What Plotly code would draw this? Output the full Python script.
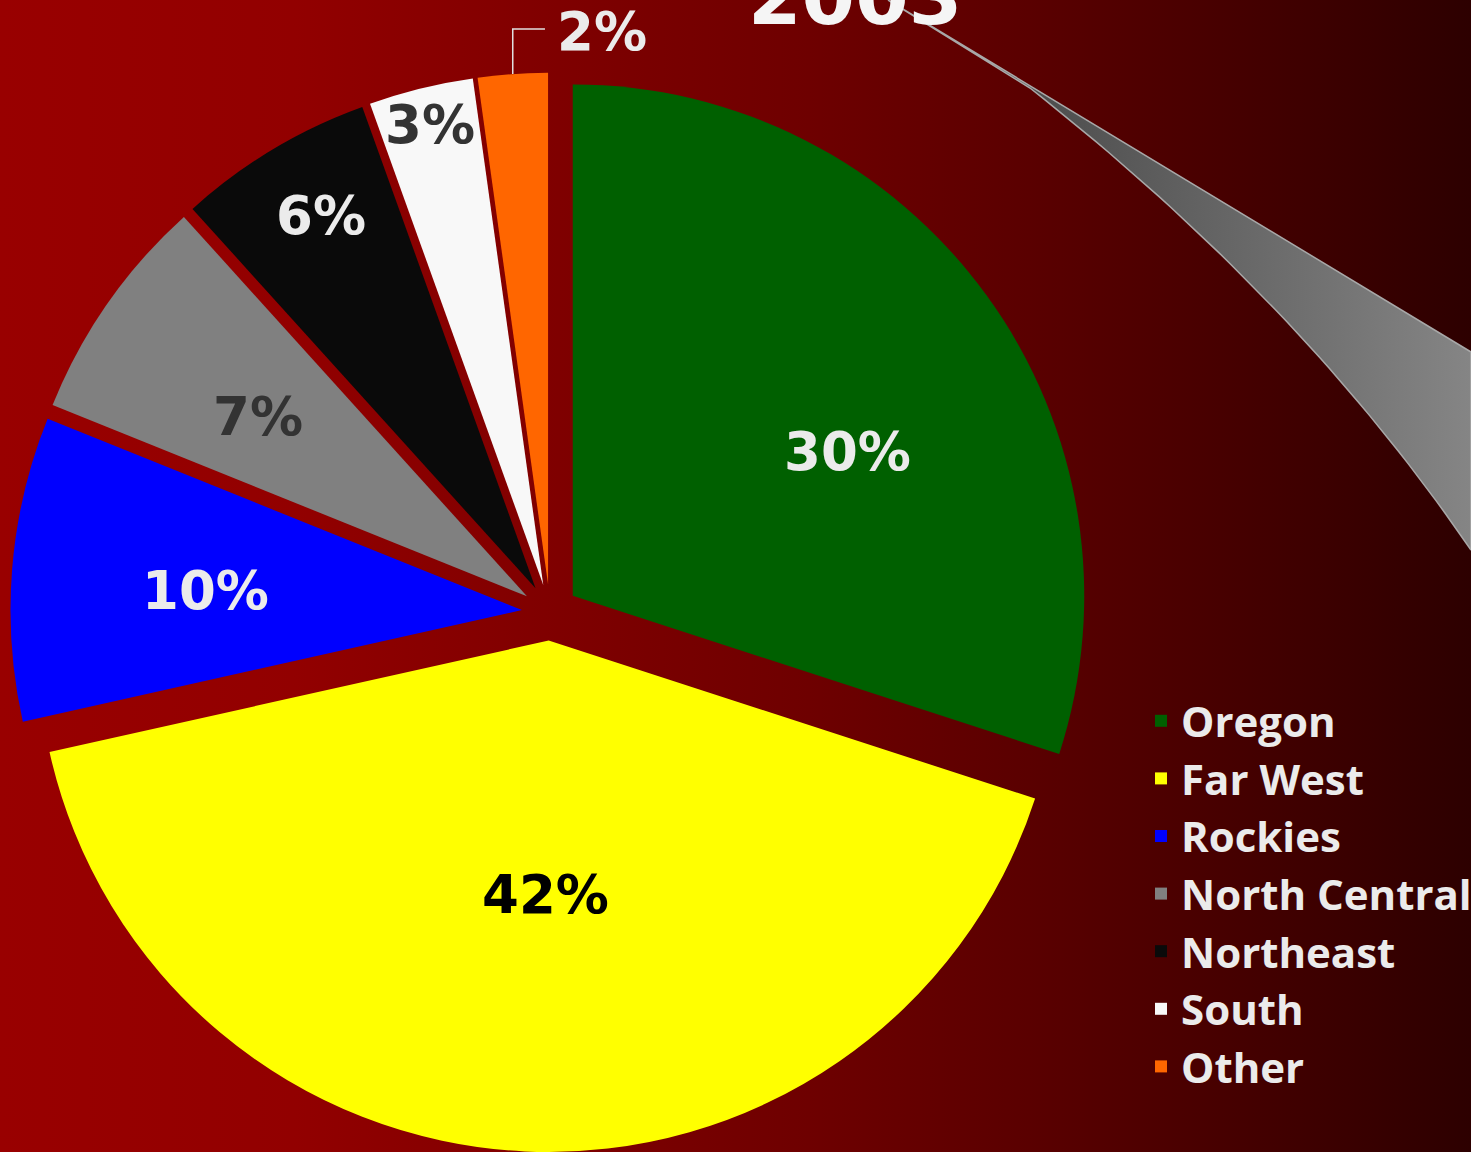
import math
import plotly.graph_objects as go

# ---------------- data ----------------
regions = ["Oregon", "Far West", "Rockies", "North Central", "Northeast", "South", "Other"]
shares = [30.0, 41.5, 9.6, 7.2, 6.2, 3.3, 2.2]
slice_colors = ["#006000", "#FFFF00", "#0000FF", "#808080", "#0A0A0A", "#F8F8F8", "#FF6600"]
label_colors = ["#EBEBEB", "#000000", "#EBEBEB", "#333333", "#EBEBEB", "#333333", "#EBEBEB"]
title_text = "2003"

# ---------------- style / layout constants ----------------
W, H = 1471, 1152
PULL = 0.055
CX = 550.0            # pie centre (px)
HALF = 539.6          # half size of pie domain box (px)
CY = H - HALF
R = HALF / (1 + PULL)
# label placement (fraction across slice angle, fraction of radius); None = outside label
label_angle_frac = [0.576, 0.486, 0.467, 0.455, 0.547, 0.5, None]
label_radius_frac = [0.607, 0.496, 0.619, 0.632, 0.84, 0.927, None]
LABEL_FONT = dict(family="DejaVu Sans", size=53, weight="bold")

fig = go.Figure()

# background gradient (hidden cartesian axes in pixel units)
fig.add_trace(go.Scatter(
    x=[0, W, W, 0, 0], y=[0, 0, H, H, 0], mode="lines", fill="toself",
    line=dict(width=0),
    fillgradient=dict(type="horizontal", colorscale=[
        [0.0, "rgb(153,0,0)"], [0.2, "rgb(146,0,0)"], [0.37, "rgb(128,0,0)"],
        [0.55, "rgb(110,0,0)"], [0.714, "rgb(88,0,0)"], [0.85, "rgb(68,0,0)"],
        [1.0, "rgb(45,0,0)"]]),
    hoverinfo="skip", showlegend=False))

# decorative swoosh: straight upper edge, curved (quadratic Bezier) lower edge
tip, top_end, low_end, ctrl, low_start = (888, 0), (W, 352), (W, 550), (1300, 300), (1030, 88)
sx, sy = [tip[0], top_end[0], low_end[0]], [tip[1], top_end[1], low_end[1]]
n = 40
for k in range(1, n + 1):
    t = k / n
    bx = (1 - t) ** 2 * low_end[0] + 2 * (1 - t) * t * ctrl[0] + t ** 2 * low_start[0]
    by = (1 - t) ** 2 * low_end[1] + 2 * (1 - t) * t * ctrl[1] + t ** 2 * low_start[1]
    sx.append(bx)
    sy.append(by)
sx.append(tip[0])
sy.append(tip[1])
fig.add_trace(go.Scatter(
    x=sx, y=sy, mode="lines", fill="toself",
    line=dict(color="#A8A8A8", width=1.5),
    fillgradient=dict(type="horizontal", colorscale=[[0, "#3A3A3A"], [1, "#858585"]]),
    hoverinfo="skip", showlegend=False))

# pie
fig.add_trace(go.Pie(
    labels=regions, values=shares, sort=False, direction="clockwise", rotation=0,
    pull=PULL, marker=dict(colors=slice_colors, line=dict(width=0)),
    textinfo="none", hoverinfo="label+percent",
    domain=dict(x=[(CX - HALF) / W, (CX + HALF) / W], y=[0, 2 * HALF / H]),
))

# percentage labels computed from data
total = sum(shares)
fracs = [v / total for v in shares]
pct_text = [f"{int(f * 100 + 0.5 + 1e-9)}%" for f in fracs]
annotations = []
start = 0.0
for i, f in enumerate(fracs):
    span = f * 360.0
    a0, a1 = start, start + span
    mid = math.radians((a0 + a1) / 2)
    scx = CX + PULL * R * math.sin(mid)
    scy = CY - PULL * R * math.cos(mid)
    if label_angle_frac[i] is not None:
        ang = math.radians(a0 + label_angle_frac[i] * span)
        lx = scx + label_radius_frac[i] * R * math.sin(ang)
        ly = scy - label_radius_frac[i] * R * math.cos(ang)
        annotations.append(dict(x=lx, y=ly, xref="x", yref="y", text=pct_text[i],
                                showarrow=False, xanchor="center", yanchor="middle",
                                font=dict(color=label_colors[i], **LABEL_FONT)))
    else:
        rx = scx + R * math.sin(mid)
        ry = scy - R * math.cos(mid)
        ey = ry - 0.088 * R
        ex = rx + 0.063 * R
        fig.add_shape(type="path", xref="x", yref="y",
                      path=f"M{rx},{ry} L{rx},{ey} L{ex},{ey}",
                      line=dict(color="#E0E0E0", width=1.5))
        annotations.append(dict(x=ex + 10, y=ey + 2, xref="x", yref="y", text=pct_text[i],
                                showarrow=False, xanchor="left", yanchor="middle",
                                font=dict(color=label_colors[i], **LABEL_FONT)))
    start = a1

annotations.append(dict(x=855 / W, y=1 - 44 / H, xref="paper", yref="paper", text=title_text,
                        showarrow=False, xanchor="center", yanchor="bottom",
                        font=dict(family="DejaVu Sans", size=77, weight="bold", color="#F5F5F5")))

fig.update_layout(
    width=W, height=H, margin=dict(l=0, r=0, t=0, b=0, autoexpand=False),
    paper_bgcolor="#2D0000", plot_bgcolor="rgba(0,0,0,0)",
    xaxis=dict(range=[0, W], visible=False, fixedrange=True, domain=[0, 1]),
    yaxis=dict(range=[H, 0], visible=False, fixedrange=True, domain=[0, 1]),
    showlegend=True,
    legend=dict(x=1141 / W, xanchor="left", y=1 - 687 / H, yanchor="top",
                bgcolor="rgba(0,0,0,0)", traceorder="normal",
                font=dict(family="Open Sans", size=42, weight="bold", color="#EBEBEB")),
    annotations=annotations,
)

fig.write_html(
    "out.html",
    config={"displayModeBar": False},
    post_script=(
        "var d=document.getElementById('{plot_id}');"
        "d.style.position='fixed';d.style.left='0px';d.style.top='0px';"
        "document.body.style.margin='0px';document.body.style.overflow='hidden';"
        "document.documentElement.style.overflow='hidden';window.scrollTo(0,0);"
    ),
)
